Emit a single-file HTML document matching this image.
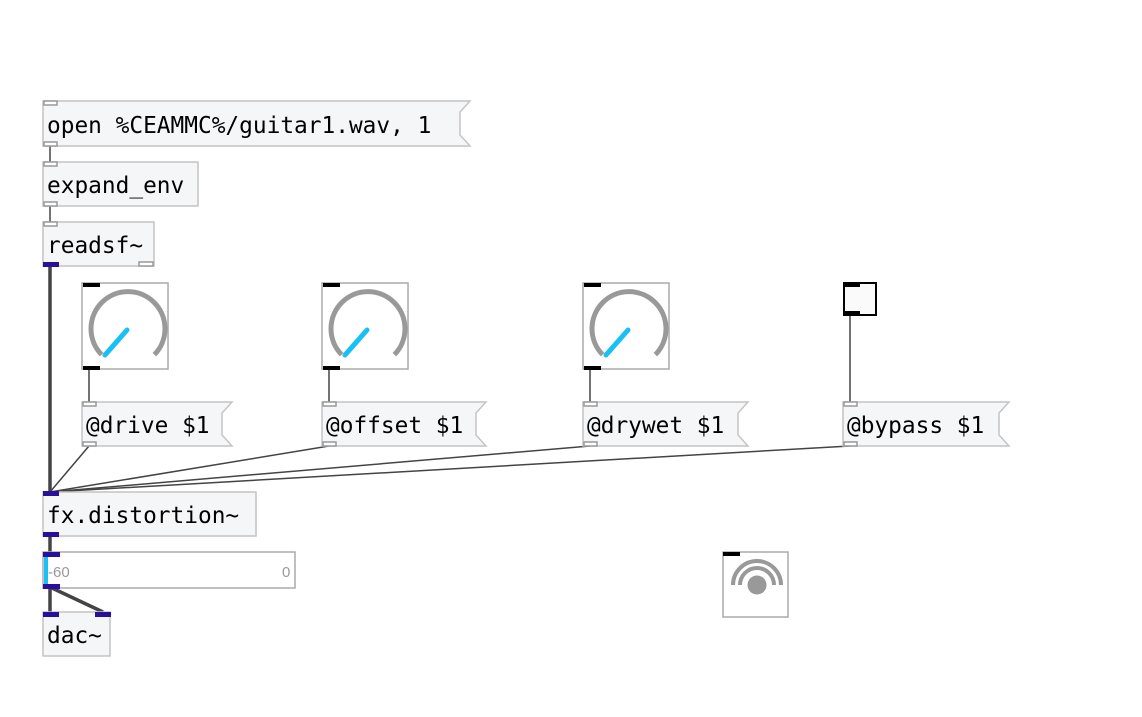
<!DOCTYPE html>
<html><head><style>
html,body{margin:0;padding:0;background:#fff;width:1142px;height:717px;overflow:hidden}
svg text{font-family:"DejaVu Sans Mono","Liberation Mono",monospace;font-size:22.8px;fill:#000}
</style></head><body>
<svg width="1142" height="717" xmlns="http://www.w3.org/2000/svg">
<g stroke="#444" fill="none">
<line x1="50" y1="266" x2="50" y2="492" stroke-width="3.5"/>
<line x1="50" y1="146" x2="50" y2="162" stroke-width="1.5"/>
<line x1="50" y1="206" x2="50" y2="222" stroke-width="1.5"/>
<line x1="89" y1="369" x2="89" y2="402" stroke-width="1.5"/>
<line x1="329" y1="369" x2="329" y2="402" stroke-width="1.5"/>
<line x1="590" y1="369" x2="590" y2="402" stroke-width="1.5"/>
<line x1="850" y1="315" x2="850" y2="402" stroke-width="1.5"/>
<line x1="89" y1="446" x2="50" y2="492" stroke-width="1.5"/>
<line x1="329" y1="446" x2="50" y2="492" stroke-width="1.5"/>
<line x1="590" y1="446" x2="50" y2="492" stroke-width="1.5"/>
<line x1="850" y1="446" x2="50" y2="492" stroke-width="1.5"/>
<line x1="50" y1="536" x2="50" y2="552" stroke-width="3.5"/>
<line x1="50" y1="588" x2="50" y2="612" stroke-width="3.5"/>
<line x1="52" y1="588" x2="103" y2="612" stroke-width="3.5"/>
</g>
<g fill="#f5f6f8" stroke="#c4c4c4" stroke-width="1.5">
<polygon points="43,101 470,101 460,112 460,135 470,146 43,146"/>
<polygon points="82,402 232,402 222,413 222,435 232,446 82,446"/>
<polygon points="322,402 486,402 476,413 476,435 486,446 322,446"/>
<polygon points="583,402 748,402 738,413 738,435 748,446 583,446"/>
<polygon points="843,402 1009,402 999,413 999,435 1009,446 843,446"/>
<rect x="43" y="162" width="155" height="44"/>
<rect x="43" y="222" width="111" height="44"/>
<rect x="43" y="492" width="213" height="44"/>
<rect x="43" y="612" width="67" height="44"/>
</g>
<rect x="43" y="552" width="252" height="36" fill="#fff" stroke="#aaa" stroke-width="1.5"/>
<rect x="44" y="556" width="4" height="28" fill="#19c0f5"/>
<text x="48" y="577" style="font-family:'Liberation Sans',sans-serif;font-size:15px;fill:#999">-60</text>
<text x="282" y="577" style="font-family:'Liberation Sans',sans-serif;font-size:15px;fill:#999">0</text>
<text x="47" y="133">open %CEAMMC%/guitar1.wav, 1</text>
<text x="47" y="193">expand_env</text>
<text x="47" y="253">readsf~</text>
<text x="86" y="433">@drive $1</text>
<text x="326" y="433">@offset $1</text>
<text x="587" y="433">@drywet $1</text>
<text x="847" y="433">@bypass $1</text>
<text x="47" y="523">fx.distortion~</text>
<text x="47" y="643">dac~</text>
<g fill="#fff" stroke="#999" stroke-width="1.5">
<rect x="44" y="101" width="13" height="4"/><rect x="44" y="142" width="13" height="4"/>
<rect x="44" y="162" width="13" height="4"/><rect x="44" y="202" width="13" height="4"/>
<rect x="44" y="222" width="13" height="4"/><rect x="139" y="262" width="14" height="4"/>
<rect x="83" y="402" width="13" height="4"/><rect x="83" y="442" width="13" height="4"/>
<rect x="323" y="402" width="13" height="4"/><rect x="323" y="442" width="13" height="4"/>
<rect x="584" y="402" width="13" height="4"/><rect x="584" y="442" width="13" height="4"/>
<rect x="844" y="402" width="13" height="4"/><rect x="844" y="442" width="13" height="4"/>
</g>
<g fill="#2a0f9c">
<rect x="43" y="262" width="16" height="5"/>
<rect x="43" y="491" width="16" height="5"/><rect x="43" y="532" width="16" height="5"/>
<rect x="43" y="552" width="17" height="5"/><rect x="43" y="584" width="17" height="5"/>
<rect x="43" y="612" width="16" height="5"/><rect x="95" y="612" width="16" height="5"/>
</g>
<g id="k">
<rect x="82" y="283" width="86" height="86" fill="#fff" stroke="#aaa" stroke-width="1.5"/>
<rect x="83" y="283" width="17" height="4" fill="#000"/><rect x="83" y="366" width="17" height="4" fill="#000"/>
<path d="M101.6,354.6 A37,37 0 1 1 154.4,354.6" fill="none" stroke="#999" stroke-width="5"/>
<line x1="105" y1="355" x2="127" y2="330" stroke="#19c0f5" stroke-width="5" stroke-linecap="round"/>
</g>
<use href="#k" x="240"/>
<use href="#k" x="501"/>
<rect x="844" y="283" width="32" height="32" fill="#fafafa" stroke="#000" stroke-width="2"/>
<rect x="843" y="283" width="17" height="4" fill="#000"/><rect x="843" y="311" width="17" height="4" fill="#000"/>
<rect x="723" y="552" width="65" height="65" fill="#fff" stroke="#aaa" stroke-width="1.5"/>
<rect x="723" y="552" width="17" height="4" fill="#000"/>
<circle cx="757" cy="585" r="9.5" fill="#999"/>
<path d="M740,585 A17,17 0 0 1 774,585" fill="none" stroke="#999" stroke-width="4"/>
<path d="M733,585 A24,24 0 0 1 781,585" fill="none" stroke="#999" stroke-width="4"/>
</svg>
</body></html>
